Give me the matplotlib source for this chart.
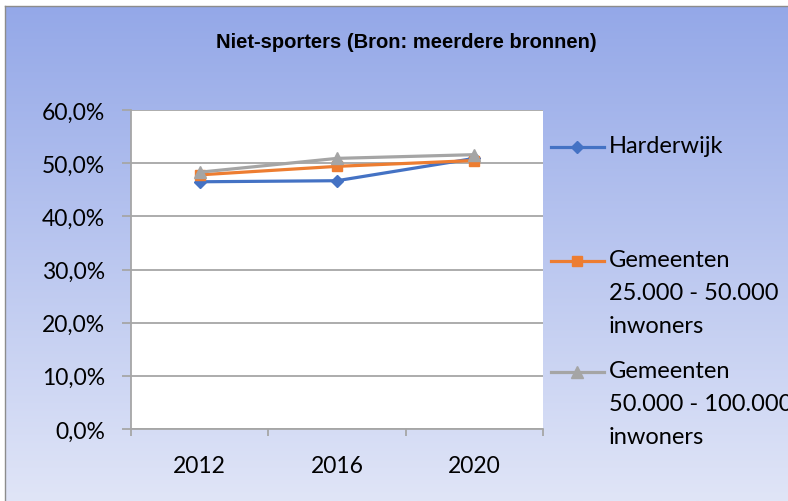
import matplotlib.pyplot as plt
import numpy as np
from matplotlib.lines import Line2D
from matplotlib.ticker import FixedLocator, FuncFormatter

# data
years = ['2012', '2016', '2020']
harderwijk = [46.5, 46.7, 50.9]
gem_25_50 = [47.8, 49.4, 50.5]
gem_50_100 = [48.3, 50.9, 51.6]

labels = ['Harderwijk', 'Gemeenten\n25.000 - 50.000\ninwoners', 'Gemeenten\n50.000 - 100.000\ninwoners']
colors = ['#4472c4', '#ed7d31', '#a5a5a5']
markers = ['D', 's', '^']
msizes = [6, 7.5, 8]

W, H = 788, 502
fig = plt.figure(figsize=(W / 100, H / 100), dpi=100)
fig.patch.set_facecolor('white')

# gradient chart background with border
bg = fig.add_axes([5 / W, 0, 1 - 5 / W, (H - 7) / H], zorder=0)
grad = np.linspace(0, 1, 256).reshape(-1, 1)
top = np.array([0x94, 0xa8, 0xe8]) / 255
bot = np.array([0xe0, 0xe5, 0xf7]) / 255
img = top + (bot - top) * grad[:, :, None]
bg.imshow(img, aspect='auto', extent=[0, 1, 0, 1])
bg.set_xticks([])
bg.set_yticks([])
for s in ['right', 'bottom']:
    bg.spines[s].set_visible(False)
for s in ['left', 'top']:
    bg.spines[s].set_color('#8c8c8c')
    bg.spines[s].set_linewidth(1)

# main plot
ax = fig.add_axes([131 / W, (H - 430) / H, (543 - 131) / W, (430 - 111) / H], zorder=1)
ax.set_facecolor('white')
x = np.arange(len(years))
for vals, c, m, ms in zip([harderwijk, gem_25_50, gem_50_100], colors, markers, msizes):
    ax.plot(x, vals, color=c, marker=m, markersize=ms, linewidth=2.3, zorder=3)

ax.set_xlim(-0.5, 2.5)
ax.set_ylim(0, 60)
ax.set_yticks(np.arange(0, 61, 10))
ax.yaxis.set_major_formatter(FuncFormatter(lambda v, p: f'{v:.1f}%'.replace('.', ',')))
ax.grid(axis='y', color='#a6a6a6', linewidth=1.3, zorder=1)
ax.set_axisbelow(True)

ax.set_xticks(x)
ax.set_xticklabels(years)
ax.xaxis.set_minor_locator(FixedLocator([-0.5, 0.5, 1.5, 2.5]))
ax.tick_params(axis='x', which='major', length=0, pad=19)
ax.tick_params(axis='x', which='minor', length=5, color='#a6a6a6', width=1.3)
ax.tick_params(axis='y', length=6.5, color='#a6a6a6', width=1.3, pad=12)
ax.tick_params(labelsize=16.5)
for lab in ax.get_xticklabels() + ax.get_yticklabels():
    lab.set_fontfamily(['Lato', 'DejaVu Sans'])

for s in ['top', 'right']:
    ax.spines[s].set_visible(False)
for s in ['left', 'bottom']:
    ax.spines[s].set_color('#a6a6a6')
    ax.spines[s].set_linewidth(1.3)

fig.text(406 / W, 1 - 42 / H, 'Niet-sporters (Bron: meerdere bronnen)',
         ha='center', va='center', fontsize=14.5, fontweight='bold',
         family=['Liberation Sans Narrow', 'Liberation Sans', 'DejaVu Sans'])

# legend drawn by hand to match the spacing
leg_y = [148, 262, 373]
top_y = [136, 250, 361]
for lab, c, m, ms, ly, ty in zip(labels, colors, markers, msizes, leg_y, top_y):
    yf = 1 - ly / H
    fig.add_artist(Line2D([551 / W, 604 / W], [yf, yf], color=c, linewidth=2.3,
                          transform=fig.transFigure, zorder=5))
    fig.add_artist(Line2D([577 / W], [yf], color=c, marker=m, markersize=ms,
                          transform=fig.transFigure, zorder=5))
    fig.text(609 / W, 1 - ty / H, lab, ha='left', va='top', fontsize=17,
             linespacing=1.7, family=['Lato', 'DejaVu Sans'], zorder=5)

fig.savefig('out.png', dpi=100)
